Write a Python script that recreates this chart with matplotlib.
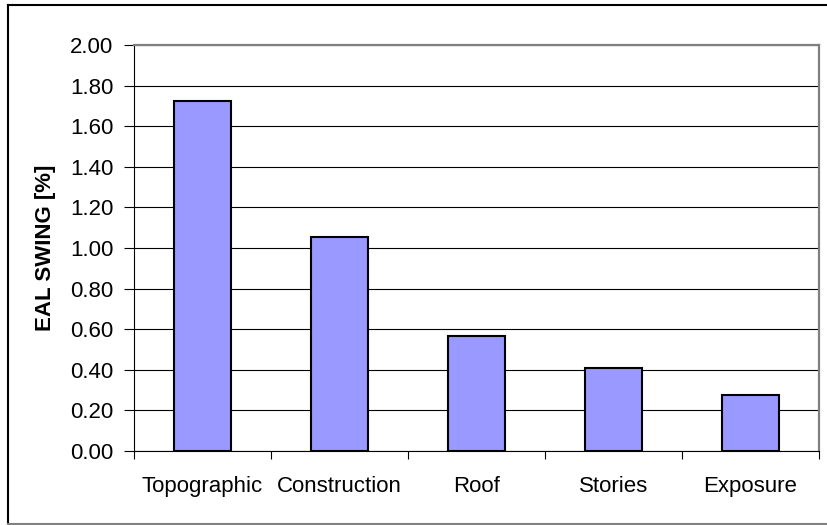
import matplotlib
matplotlib.use("Agg")
import matplotlib.pyplot as plt
from matplotlib.lines import Line2D

categories = ["Topographic", "Construction", "Roof", "Stories", "Exposure"]
eal_swing = [1.724, 1.054, 0.567, 0.409, 0.276]
yticks = [0.0, 0.2, 0.4, 0.6, 0.8, 1.0, 1.2, 1.4, 1.6, 1.8, 2.0]

plt.rcParams['font.family'] = ['Liberation Sans', 'DejaVu Sans']

W, H = 828, 525
fig = plt.figure(figsize=(W / 100, H / 100), dpi=100)
ax = fig.add_axes([134 / W, 1 - 451 / H, (819 - 134) / W, (451 - 45) / H])

x = range(len(categories))
ax.bar(x, eal_swing, width=0.41, color="#9999FF", edgecolor="black",
       linewidth=1.5, zorder=3)

ax.set_xlim(-0.5, len(categories) - 0.5)
ax.set_ylim(0, 2.0)
ax.set_yticks(yticks)
ax.set_yticklabels([f"{v:.2f}" for v in yticks], fontsize=16)
ax.yaxis.grid(True, color="black", linewidth=0.8, zorder=0)
ax.set_axisbelow(True)

ax.set_xticks(list(x))
ax.set_xticklabels(categories, fontsize=16)
ax.tick_params(axis="x", which="major", length=0, pad=18)
ax.set_xticks([i - 0.5 for i in range(len(categories) + 1)], minor=True)
ax.tick_params(axis="x", which="minor", length=6, width=0.8, direction="out")
ax.tick_params(axis="y", length=7, width=0.8, direction="out", pad=8)

ax.set_ylabel("EAL SWING [%]", fontsize=16, fontweight="bold", labelpad=10)

ax.spines["left"].set_linewidth(0.8)
ax.spines["bottom"].set_linewidth(0.8)
for s in ["top", "right"]:
    ax.spines[s].set_color("#808080")
    ax.spines[s].set_linewidth(1.6)

# outer chart border
fx = lambda p: p / W
fy = lambda p: 1 - p / H
fig.add_artist(Line2D([fx(8), fx(8)], [fy(5), fy(524)], color="black", lw=1.5))
fig.add_artist(Line2D([fx(8), fx(828)], [fy(5), fy(5)], color="black", lw=1.5))
fig.add_artist(Line2D([fx(8), fx(828)], [fy(524), fy(524)], color="#808080", lw=1.5))

fig.savefig("out.png", dpi=100)
